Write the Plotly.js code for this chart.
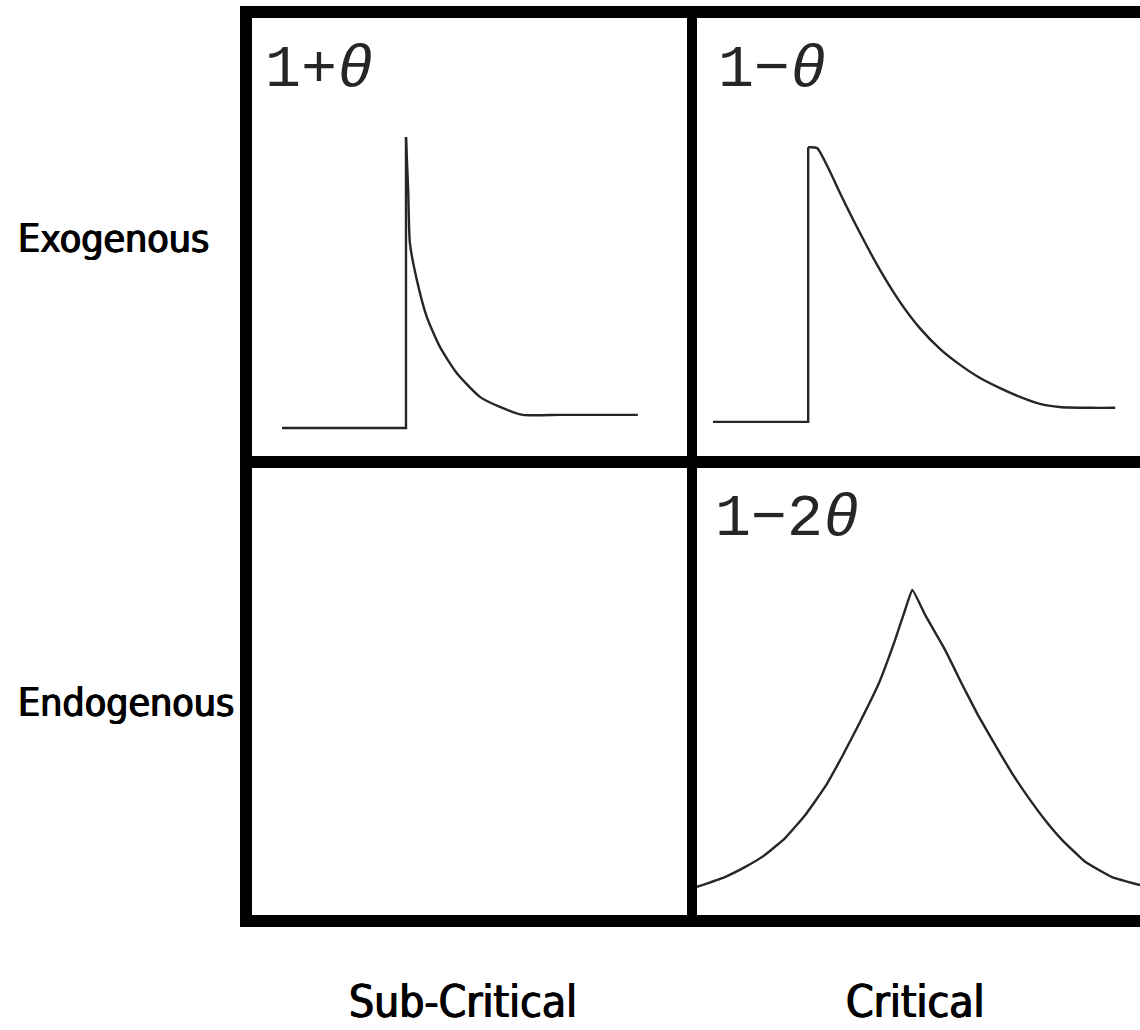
<!DOCTYPE html>
<html>
<head>
<meta charset="utf-8">
<script src="https://cdn.plot.ly/plotly-3.0.1.min.js"></script>
<style>html,body{margin:0;padding:0;background:#fff;}#chart{width:1140px;height:1030px;}</style>
</head>
<body>
<div id="chart"></div>
<script>
// ---- data (time vs. activity, arbitrary units 0-100 per panel) ----
// Exogenous / sub-critical: quiet baseline, sudden jump, fast relaxation
var exoSubRiseTime      = [6.9, 20.0, 35.4, 35.4];
var exoSubRiseActivity  = [6.4, 6.4, 6.4, 72.8];
var exoSubDecayTime     = [35.4, 35.9, 36.3, 37.9, 40.2, 43.2, 47.1, 52.4, 57.0, 62.3, 70.8, 80.0, 88.7];
var exoSubDecayActivity = [72.8, 60.7, 48.6, 40.2, 31.7, 24.9, 18.9, 13.5, 11.2, 9.4, 9.4, 9.4, 9.4];

// Exogenous / critical: quiet baseline, sudden jump, slow relaxation
var exoCritRiseTime      = [3.6, 15.0, 25.1, 25.1];
var exoCritRiseActivity  = [7.8, 7.8, 7.8, 70.5];
var exoCritDecayTime     = [25.1, 25.5, 27.1, 29.6, 32.3, 36.8, 41.3, 45.8, 50.3, 54.9, 59.4, 63.9, 68.4, 72.9, 77.4, 81.9, 88.7, 94.4];
var exoCritDecayActivity = [70.5, 70.5, 70.3, 65.8, 60.0, 50.9, 42.5, 35.2, 29.2, 24.4, 20.8, 17.8, 15.5, 13.5, 11.9, 11.2, 11.0, 11.0];

// Endogenous / critical: build-up to a sharp peak, then relaxation
var endoCritTime     = [0, 6.3, 10.8, 15.3, 19.9, 24.4, 28.9, 32.7, 36.8, 40.9, 44.7, 47.0, 48.6, 51.5, 56.0, 59.8, 63.4, 67.3, 71.1, 74.7, 78.6, 82.4, 87.6, 93.7, 100];
var endoCritActivity = [6.5, 8.7, 10.9, 13.6, 17.4, 22.5, 28.8, 35.5, 43.3, 51.6, 61.6, 68.4, 72.8, 67.2, 59.4, 51.8, 44.9, 38.2, 31.9, 26.6, 21.4, 17.0, 12.1, 8.7, 6.9];

var rowLabels   = ["Exogenous", "Endogenous"];
var colLabels   = ["Sub-Critical", "Critical"];
var panelLabels = ["1+<i>θ</i>", "1−<i>θ</i>", "1−2<i>θ</i>"];

// ---- layout helpers (pixel -> paper) ----
var W = 1140, H = 1030;
function px(x){ return x / W; }
function py(y){ return 1 - y / H; }

function straight(){ return {color: '#262626', width: 2.4, shape: 'linear'}; }
function smooth(s){ return {color: '#262626', width: 2.4, shape: 'spline', smoothing: s}; }
function tr(x, y, xa, ya, line){ return {x: x, y: y, xaxis: xa, yaxis: ya, mode: 'lines', line: line, hoverinfo: 'skip'}; }

var traces = [
  tr(exoSubRiseTime, exoSubRiseActivity, 'x', 'y', straight()),
  tr(exoSubDecayTime, exoSubDecayActivity, 'x', 'y', smooth(0.6)),
  tr(exoCritRiseTime, exoCritRiseActivity, 'x2', 'y2', straight()),
  tr(exoCritDecayTime, exoCritDecayActivity, 'x2', 'y2', smooth(0.6)),
  tr(endoCritTime, endoCritActivity, 'x3', 'y3', smooth(0.35))
];

function ax(domain){ return {domain: domain, range: [0, 100], visible: false, fixedrange: true}; }

var topY = [py(456), py(18)];
var botY = [py(916), py(468)];
var leftX = [px(252), px(687)];
var rightX = [px(697), 1];

var black = '#000';
function hline(y, x0, x1, w){ return {type:'line', xref:'paper', yref:'paper', x0:px(x0), x1:px(x1), y0:py(y), y1:py(y), line:{color:black, width:w}}; }
function vline(x, y0, y1, w){ return {type:'line', xref:'paper', yref:'paper', x0:px(x), x1:px(x), y0:py(y0), y1:py(y1), line:{color:black, width:w}}; }

var shapes = [
  hline(12, 240, 1160, 12),
  hline(462, 240, 1160, 12),
  hline(921, 240, 1160, 12),
  vline(246, 6, 927, 12),
  vline(692, 6, 927, 10)
];

var monoFont = {family: 'Liberation Mono, Courier New, monospace', size: 60, color: '#262626'};
function labelFont(size){
  return {family: 'DejaVu Sans Condensed, DejaVu Sans, sans-serif', size: size, color: '#000',
          shadow: '0.7px 0 0 #000, -0.7px 0 0 #000'};
}

function ann(text, x, y, xanchor, font){
  return {text: text, xref:'paper', yref:'paper', x: px(x), y: py(y), xanchor: xanchor, yanchor: 'middle', showarrow: false, font: font};
}

var annotations = [
  ann(panelLabels[0], 263, 70, 'left', monoFont),
  ann(panelLabels[1], 716, 70, 'left', monoFont),
  ann(panelLabels[2], 713, 519, 'left', monoFont),
  ann(rowLabels[0], 16, 238, 'left', labelFont(39)),
  ann(rowLabels[1], 16, 702, 'left', labelFont(39)),
  ann(colLabels[0], 463, 1001, 'center', labelFont(44)),
  ann(colLabels[1], 915, 1001, 'center', labelFont(44))
];

var layout = {
  width: W, height: H,
  margin: {l:0, r:0, t:0, b:0},
  paper_bgcolor: '#fff', plot_bgcolor: 'rgba(0,0,0,0)',
  showlegend: false,
  xaxis: ax(leftX),  yaxis: ax(topY),
  xaxis2: ax(rightX), yaxis2: ax(topY),
  xaxis3: ax(rightX), yaxis3: ax(botY),
  shapes: shapes,
  annotations: annotations
};

Plotly.newPlot('chart', traces, layout, {staticPlot: true, displayModeBar: false});
</script>
</body>
</html>
